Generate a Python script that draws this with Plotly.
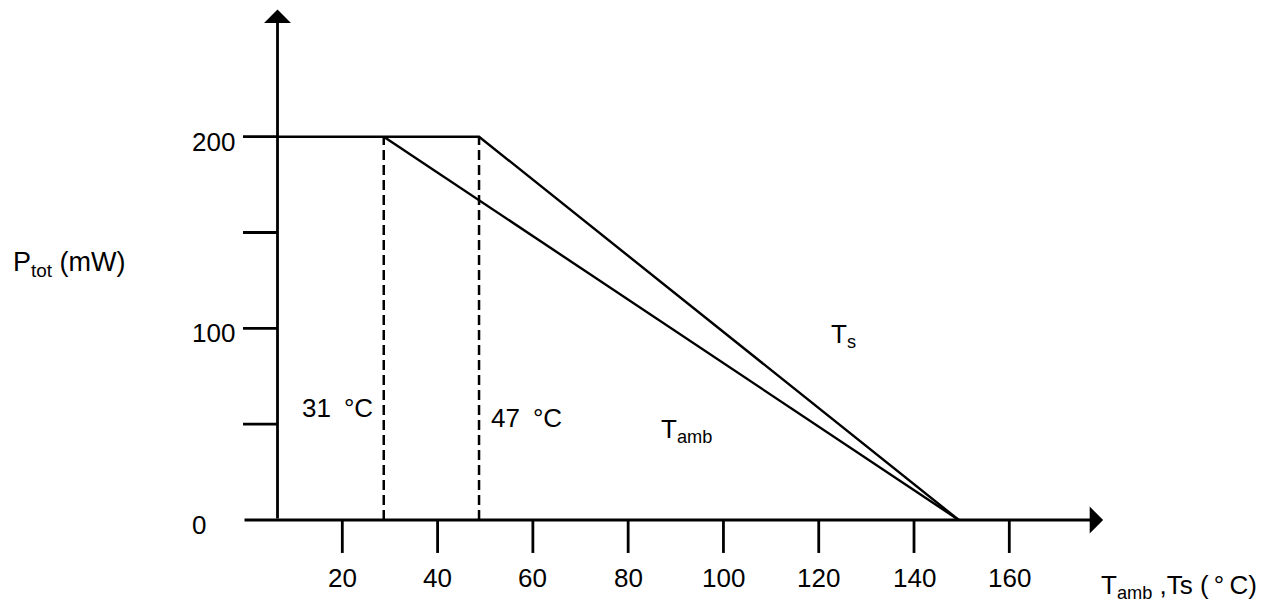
import plotly.graph_objects as go

# ---- data ----
ts_x = [6.4, 48.7, 149.4]          # T_s derating curve (°C)
ts_y = [200, 200, 0]               # P_tot (mW)
tamb_x = [28.7, 149.4]             # T_amb derating curve (°C)
tamb_y = [200, 0]
knee_x = [28.7, 48.7]              # dashed markers
knee_top = [200, 200]
knee_labels = ["31\u2002°C", "47\u2002°C"]
x_ticks = [20, 40, 60, 80, 100, 120, 140, 160]
y_ticks = [50, 100, 150, 200]
y_labels = [0, 100, 200]

# ---- axis geometry ----
AXIS_X = 6.4          # position of the vertical axis
X_START = -0.84       # left end of horizontal axis / y ticks
X_END = 179.7         # arrow tip of horizontal axis
Y_END = 266.4         # arrow tip of vertical axis
XTICK_LEN = 17.2      # in y data units
FONT = "Liberation Sans, Arial, Helvetica, sans-serif"
FS = 26
LW_AXIS = 2.8
LW_DATA = 2.4

fig = go.Figure()

fig.add_trace(go.Scatter(x=ts_x, y=ts_y, mode="lines",
                         line=dict(color="black", width=LW_DATA), hoverinfo="skip"))
fig.add_trace(go.Scatter(x=tamb_x, y=tamb_y, mode="lines",
                         line=dict(color="black", width=LW_DATA), hoverinfo="skip"))
for kx, kt in zip(knee_x, knee_top):
    fig.add_trace(go.Scatter(x=[kx, kx], y=[0, kt], mode="lines",
                             line=dict(color="black", width=2.5, dash="10px,5px"),
                             hoverinfo="skip"))

shapes = []
for v in y_ticks:
    shapes.append(dict(type="line", xref="x", yref="y", x0=X_START, x1=AXIS_X, y0=v, y1=v,
                       line=dict(color="black", width=LW_AXIS)))
for v in x_ticks:
    shapes.append(dict(type="line", xref="x", yref="y", x0=v, x1=v, y0=0, y1=-XTICK_LEN,
                       line=dict(color="black", width=LW_AXIS)))

annotations = []
# axes with arrow heads
annotations.append(dict(x=X_END, y=0, ax=X_START, ay=0, xref="x", yref="y", axref="x", ayref="y",
                        text="", showarrow=True, arrowhead=1, arrowwidth=LW_AXIS,
                        arrowsize=1.6, arrowcolor="black"))
annotations.append(dict(x=AXIS_X, y=Y_END, ax=AXIS_X, ay=0, xref="x", yref="y", axref="x", ayref="y",
                        text="", showarrow=True, arrowhead=1, arrowwidth=LW_AXIS,
                        arrowsize=1.6, arrowcolor="black"))

base_font = dict(family=FONT, size=FS, color="black")
for v in x_ticks:
    annotations.append(dict(x=v, y=0, xref="x", yref="y", text=str(v), showarrow=False,
                            xanchor="center", yanchor="middle", yshift=-58, font=base_font))
for v in y_labels:
    annotations.append(dict(x=-12.0, y=v, xref="x", yref="y", text=str(v), showarrow=False,
                            xanchor="left", yanchor="middle", yshift=-5, font=base_font))

annotations.append(dict(x=18.9, y=58.7, xref="x", yref="y", text=knee_labels[0], showarrow=False,
                        xanchor="center", yanchor="middle", font=base_font))
annotations.append(dict(x=58.6, y=53.2, xref="x", yref="y", text=knee_labels[1], showarrow=False,
                        xanchor="center", yanchor="middle", font=base_font))
annotations.append(dict(x=86.5, y=46.5, xref="x", yref="y", text="T<sub>amb</sub>", showarrow=False,
                        xanchor="left", yanchor="middle", font=base_font))
annotations.append(dict(x=122.2, y=96.5, xref="x", yref="y", text="T<sub>s</sub>", showarrow=False,
                        xanchor="left", yanchor="middle", font=base_font))
annotations.append(dict(x=178.9, y=-34.5, xref="x", yref="y",
                        text="T<sub>amb</sub> ,Ts (\u2009°\u2009C)",
                        showarrow=False, xanchor="left", yanchor="middle", font=base_font))
annotations.append(dict(x=-49.5, y=133.5, xref="x", yref="y", text="P<sub>tot</sub> (mW)",
                        showarrow=False, xanchor="left", yanchor="middle",
                        font=dict(family=FONT, size=27, color="black")))

# page has an 8px body margin: figure covers screen pixels 8..1278 x 8..603
fig.update_layout(
    width=1270, height=595, autosize=False,
    margin=dict(l=0, r=0, t=0, b=0),
    paper_bgcolor="white", plot_bgcolor="white",
    showlegend=False,
    xaxis=dict(range=[-50.17, 216.4], visible=False, fixedrange=True),
    yaxis=dict(range=[-43.31, 267.15], visible=False, fixedrange=True),
    shapes=shapes, annotations=annotations,
    font=base_font,
)

fig.write_html("out.html")
